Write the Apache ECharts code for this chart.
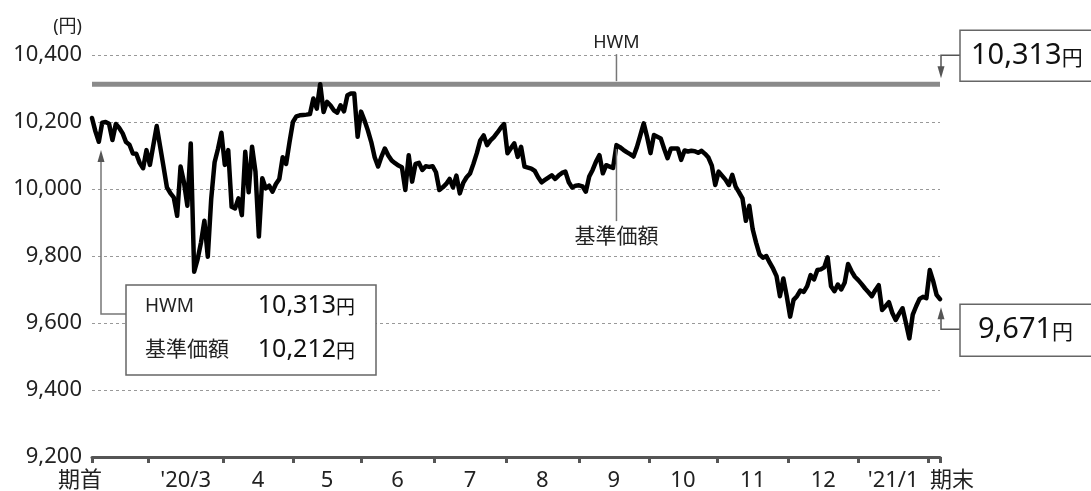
<!DOCTYPE html>
<html><head><meta charset="utf-8">
<script src="https://cdn.jsdelivr.net/npm/echarts@6/dist/echarts.min.js"></script>
<style>html,body{margin:0;padding:0;background:#fff}#c{width:1091px;height:491px}</style>
</head><body><div id="c"></div>
<script>
// ---- data ----
const navValues = [
10212,10172,10141,10198,10200,10195,10146,10194,10182,10166,
10140,10132,10106,10105,10078,10062,10116,10072,10130,10188,
10127,10067,10005,9988,9975,9920,10067,10020,9950,10136,
9753,9790,9840,9905,9798,9970,10080,10120,10168,10072,
10116,9947,9942,9972,9922,10111,9990,10126,10052,9858,
10032,10002,10010,9992,10015,10030,10095,10075,10140,10200,
10217,10220,10221,10222,10224,10270,10240,10313,10230,10260,
10250,10235,10228,10250,10232,10280,10285,10285,10156,10231,
10205,10175,10140,10095,10067,10097,10121,10100,10085,10077,
10070,10065,9997,10101,10022,10075,10078,10057,10068,10066,
10068,10050,9997,10005,10015,10030,10005,10040,9987,10018,
10035,10046,10075,10107,10145,10160,10131,10145,10155,10168,
10182,10194,10107,10122,10136,10096,10126,10067,10064,10061,
10054,10035,10020,10027,10034,10041,10030,10040,10048,10052,
10020,10004,10010,10011,10008,9992,10037,10057,10082,10101,
10047,10071,10067,10063,10131,10125,10117,10110,10104,10097,
10125,10160,10196,10155,10107,10161,10156,10151,10120,10092,
10121,10121,10121,10087,10115,10112,10114,10113,10108,10114,
10105,10094,10070,10012,10052,10040,10028,10012,10042,10007,
9990,9972,9905,9950,9880,9840,9805,9795,9800,9780,
9762,9740,9680,9733,9680,9619,9669,9680,9697,9693,
9710,9743,9730,9758,9760,9766,9796,9710,9695,9715,
9700,9720,9776,9755,9738,9728,9716,9703,9692,9680,
9698,9713,9639,9650,9662,9630,9609,9628,9644,9600,
9554,9625,9650,9672,9678,9674,9758,9725,9684,9671
];
const hwmValue = 10313;
const startNav = 10212;
const endNav = 9671;
// month boundaries (positions between trading days, in day index)
const monthTicks = [16.5, 38.5, 59, 79, 100.5, 121.5, 143, 163.5, 183.5, 204.5, 225, 245.5];
const monthLabels = ["'20/3", "4", "5", "6", "7", "8", "9", "10", "11", "12", "'21/1"];
const startLabel = '期首';
const endLabel = '期末';
const yMin = 9200, yMax = 10400, yStep = 200;
const unitLabel = '(円)';
const hwmName = 'HWM';
const navName = '基準価額';
const annotIndex = 154;

// ---- derived ----
const lastIdx = navValues.length - 1;
const fmt = v => v.toLocaleString('en-US');
const labelPos = [0];
const labelText = [startLabel];
for (let i = 0; i < monthLabels.length; i++) {
  labelPos.push((monthTicks[i] + monthTicks[i + 1]) / 2);
  labelText.push(monthLabels[i]);
}
labelPos.push(lastIdx);
labelText.push(endLabel);
const tickPos = [0, ...monthTicks, lastIdx];

const FONT = '"Noto Sans", "Noto Sans CJK JP", sans-serif';
const TXT = '#222';
const XFS = 22;

const chart = echarts.init(document.getElementById('c'));
chart.setOption({
  animation: false,
  backgroundColor: '#fff',
  grid: { left: 92, right: 151, top: 55, bottom: 34, containLabel: false, outerBoundsMode: 'none' },
  xAxis: {
    type: 'value', min: 0, max: lastIdx,
    splitLine: { show: false },
    axisLine: { show: true, lineStyle: { color: '#555', width: 3 } },
    axisTick: { show: true, customValues: tickPos, length: 6, lineStyle: { color: '#555', width: 3 } },
    axisLabel: {
      customValues: labelPos, margin: 13, color: TXT, fontFamily: FONT, fontSize: XFS,
      formatter: function (v) {
        let k = 0, best = 1e9;
        labelPos.forEach((p, i) => { const d = Math.abs(p - v); if (d < best) { best = d; k = i; } });
        if (k === 0) return '{s|' + labelText[k] + '}';
        if (k === labelText.length - 1) return '{e|' + labelText[k] + '}';
        return '{m|' + labelText[k] + '}';
      },
      rich: {
        s: { fontSize: XFS, fontFamily: FONT, color: TXT, padding: [0, 24, 0, 0] },
        e: { fontSize: XFS, fontFamily: FONT, color: TXT, padding: [0, 0, 0, 24] },
        m: { fontSize: XFS, fontFamily: FONT, color: TXT }
      }
    }
  },
  yAxis: {
    type: 'value', min: yMin, max: yMax, interval: yStep,
    name: unitLabel, nameLocation: 'end', nameGap: 28,
    nameTextStyle: { color: TXT, fontFamily: FONT, fontSize: 18, align: 'right', verticalAlign: 'middle', padding: [0, 10, 0, 0] },
    axisLine: { show: false }, axisTick: { show: false },
    axisLabel: { color: TXT, fontFamily: FONT, fontSize: 22, margin: 10, formatter: v => fmt(v) },
    splitLine: { show: true, lineStyle: { color: '#999', width: 1, type: [3, 3] } }
  },
  series: [
    {
      name: hwmName, type: 'line', showSymbol: false, silent: true, z: 2,
      data: [[0, hwmValue], [lastIdx, hwmValue]],
      lineStyle: { color: '#8a8a8a', width: 5, cap: 'butt' }
    },
    {
      name: navName, type: 'line', showSymbol: false, silent: true, z: 3,
      data: navValues.map((v, i) => [i, v]),
      lineStyle: { color: '#000', width: 4.5, join: 'round', cap: 'round' }
    }
  ]
});

const px = (x, y) => chart.convertToPixel({ gridIndex: 0 }, [x, y]);
const pStart = px(0, startNav);
const pEnd = px(lastIdx, endNav);
const pHwmEnd = px(lastIdx, hwmValue);
const pHwmA = px(annotIndex, hwmValue);
const pNavA = px(annotIndex, navValues[annotIndex]);
const gridRight = pEnd[0];

const LC = '#666';
const line = (pts, color, w) => ({ type: 'polyline', shape: { points: pts }, style: { stroke: color || LC, lineWidth: w || 1.5, fill: null }, z: 10 });
const arrowUp = (x, y) => ({ type: 'polygon', shape: { points: [[x, y], [x - 3.5, y + 12], [x + 3.5, y + 12]] }, style: { fill: '#555' }, z: 11 });
const arrowDown = (x, y) => ({ type: 'polygon', shape: { points: [[x, y], [x - 3.5, y - 12], [x + 3.5, y - 12]] }, style: { fill: '#555' }, z: 11 });
const box = (x, y, w, h) => ({ type: 'rect', shape: { x: x, y: y, width: w, height: h }, style: { fill: '#fff', stroke: '#666', lineWidth: 1.5 }, z: 10 });
const txt = (x, y, t, opts) => ({ type: 'text', x: x, y: y, z: 12, style: Object.assign({ text: t, fill: TXT, font: '18px ' + FONT, align: 'left', verticalAlign: 'middle' }, opts || {}) });
const valText = (x, y, num, big, small, align) => ({
  type: 'text', x: x, y: y, z: 12,
  style: {
    text: '{n|' + fmt(num) + '}{u|円}', align: align || 'left', verticalAlign: 'middle',
    rich: { n: { fontSize: big, fontFamily: FONT, fill: '#111' }, u: { fontSize: small, fontFamily: FONT, fill: '#111', padding: [Math.round(big * 0.18), 0, 0, 0] } }
  }
});

const ax = gridRight + 1;
const graphics = [
  // HWM label
  line([[pHwmA[0], pHwmA[1] - 3], [pHwmA[0], pHwmA[1] - 30]], '#777', 1.5),
  txt(pHwmA[0], pHwmA[1] - 41, hwmName, { align: 'center', font: '18px ' + FONT }),
  // 基準価額 label
  line([[pNavA[0], pNavA[1] + 4], [pNavA[0], pNavA[1] + 76]], '#777', 1.5),
  txt(pNavA[0], pNavA[1] + 92, navName, { align: 'center', font: '21px ' + FONT }),
  // right top: HWM value box
  line([[960, pHwmEnd[1] - 29], [ax, pHwmEnd[1] - 29], [ax, pHwmEnd[1] - 14]], '#555', 1.5),
  arrowDown(ax, pHwmEnd[1] - 6),
  box(960, pHwmEnd[1] - 54, 140, 51),
  valText(971, pHwmEnd[1] - 28, hwmValue, 29, 21),
  // right bottom: end value box
  line([[960, pEnd[1] + 30], [ax, pEnd[1] + 30], [ax, pEnd[1] + 16]], '#555', 1.5),
  arrowUp(ax, pEnd[1] + 8),
  box(960, pEnd[1] + 5, 140, 52),
  valText(978, pEnd[1] + 31, endNav, 29, 21),
  // left: start box
  line([[pStart[0] + 9, pStart[1] + 40], [pStart[0] + 9, pStart[1] + 196], [pStart[0] + 34, pStart[1] + 196]], '#777', 1.5),
  arrowUp(pStart[0] + 9, pStart[1] + 32),
  box(pStart[0] + 34, pStart[1] + 167, 250, 90),
  txt(pStart[0] + 53, pStart[1] + 189, hwmName, { font: '19px ' + FONT }),
  valText(pStart[0] + 263, pStart[1] + 188, hwmValue, 25, 19, 'right'),
  txt(pStart[0] + 53, pStart[1] + 232, navName, { font: '21px ' + FONT }),
  valText(pStart[0] + 263, pStart[1] + 232, startNav, 25, 19, 'right')
];
chart.setOption({ graphic: graphics });
</script>
</body></html>
